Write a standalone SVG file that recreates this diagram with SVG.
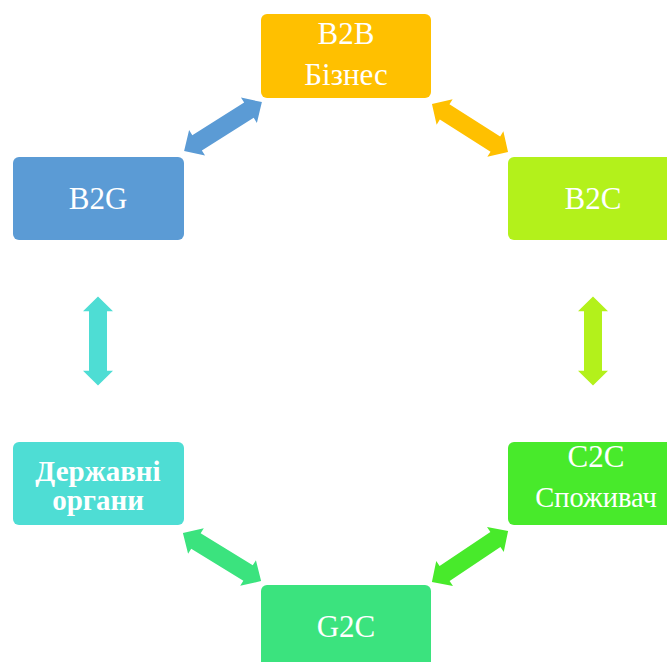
<svg xmlns="http://www.w3.org/2000/svg" width="667" height="662" viewBox="0 0 667 662">
<style>
.t{font-family:"Liberation Serif","Times New Roman",serif;font-size:31px;fill:#fff;text-anchor:middle}
.b{font-weight:bold;font-size:29px}
</style>
<defs>
<path id="darrow" d="M -45 0 L -30 -15 L -30 -9 L 30 -9 L 30 -15 L 45 0 L 30 15 L 30 9 L -30 9 L -30 15 Z"/>
</defs>
<rect width="667" height="662" fill="#fff"/>
<g id="connectors">
<use href="#darrow" fill="#5B9BD5" transform="translate(223,126.5) rotate(-32.1) scale(1.02,1)"/>
<use href="#darrow" fill="#FFC000" transform="translate(470,128) rotate(32.3)"/>
<use href="#darrow" fill="#B3F11B" transform="translate(593,341) rotate(90) scale(0.99,1)"/>
<use href="#darrow" fill="#48EA2B" transform="translate(470,556.5) rotate(-33.9) scale(1.02,1)"/>
<use href="#darrow" fill="#3BE37E" transform="translate(222,557) rotate(31.6) scale(1.02,1)"/>
<use href="#darrow" fill="#4EDDD4" transform="translate(98,341) rotate(90) scale(0.99,1)"/>
</g>
<g id="b2b">
<rect x="261" y="14" width="170" height="84" rx="6" fill="#FFC000"/>
<text class="t" x="346" y="44">B2B</text>
<text class="t" x="346" y="85">Бізнес</text>
</g>
<g id="b2c">
<rect x="508" y="157" width="170" height="83" rx="6" fill="#B3F11B"/>
<text class="t" x="593" y="209">B2C</text>
</g>
<g id="c2c">
<rect x="508" y="442" width="170" height="83" rx="6" fill="#48EA2B"/>
<text class="t" x="596" y="467">C2C</text>
<text class="t" x="596" y="507" style="font-size:28.5px">Споживач</text>
</g>
<g id="g2c">
<rect x="261" y="585" width="170" height="84" rx="6" fill="#3BE37E"/>
<text class="t" x="346" y="637">G2C</text>
</g>
<g id="organy">
<rect x="13" y="442" width="171" height="83" rx="6" fill="#4EDDD4"/>
<text class="t b" x="98" y="481">Державні</text>
<text class="t b" x="98" y="510">органи</text>
</g>
<g id="b2g">
<rect x="13" y="157" width="171" height="83" rx="6" fill="#5B9BD5"/>
<text class="t" x="98" y="209">B2G</text>
</g>
</svg>
